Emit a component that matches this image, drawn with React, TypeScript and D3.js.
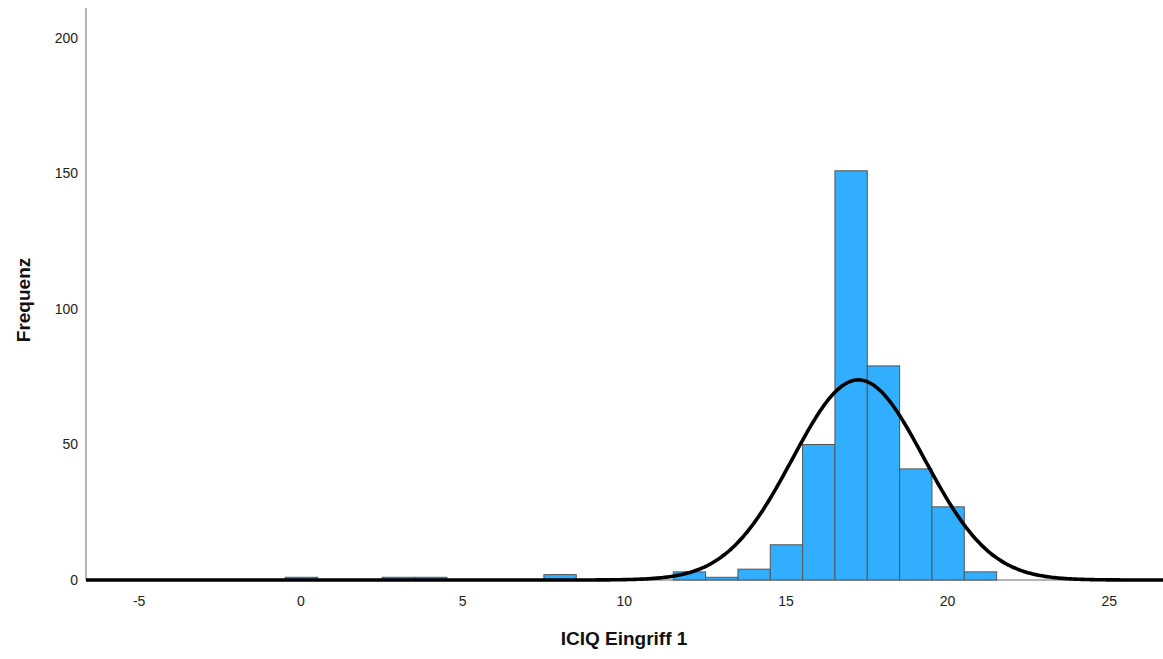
import React from "react";
import * as d3 from "d3";

// Histogram bins (centre of each unit-wide bin) and their counts
const binCenters = [0, 3, 4, 8, 12, 13, 14, 15, 16, 17, 18, 19, 20, 21];
const binCounts = [1, 1, 1, 2, 3, 1, 4, 13, 50, 151, 79, 41, 27, 3];
const yTicks = [0, 50, 100, 150, 200];
const xTicks = [-5, 0, 5, 10, 15, 20, 25];

const W = 1163;
const H = 659;
const left = 86;
const right = 1163;
const top = 38;
const bottom = 580;
const xMin = -6.66;
const xMax = 26.645;

export default function App() {
  const x = d3.scaleLinear().domain([xMin, xMax]).range([left, right]);
  const y = d3.scaleLinear().domain([0, 200]).range([bottom, top]);

  // Normal curve from the sample's mean and standard deviation
  const values: number[] = [];
  binCenters.forEach((c, i) => {
    for (let k = 0; k < binCounts[i]; k++) values.push(c);
  });
  const n = values.length;
  const mu = d3.mean(values) as number;
  const sd = d3.deviation(values) as number;
  const binW = 1;
  const pts = d3.range(xMin, xMax + 0.05, 0.05).map((v) => [
    v,
    (n * binW) / (sd * Math.sqrt(2 * Math.PI)) * Math.exp(-((v - mu) ** 2) / (2 * sd * sd)),
  ]);
  const line = d3
    .line<number[]>()
    .x((d) => x(d[0]))
    .y((d) => y(d[1]))
    .curve(d3.curveBasis);

  const font = "'Liberation Sans', Arial, sans-serif";

  return (
    <svg
      width={W}
      height={H}
      style={{ position: "absolute", left: 0, top: 0, background: "#fff" }}
      fontFamily={font}
    >
      {/* axes */}
      <line x1={left} x2={left} y1={8} y2={bottom} stroke="#9a9a9a" strokeWidth={1.5} />
      <line x1={left} x2={right} y1={bottom} y2={bottom} stroke="#9a9a9a" strokeWidth={1.5} />

      {/* bars */}
      {binCenters.map((c, i) => (
        <rect
          key={c}
          x={x(c - binW / 2)}
          y={y(binCounts[i])}
          width={x(c + binW / 2) - x(c - binW / 2)}
          height={bottom - y(binCounts[i])}
          fill="#31aefe"
          stroke="#555555"
          strokeWidth={1}
        />
      ))}

      {/* normal curve */}
      <path d={line(pts) || ""} fill="none" stroke="#000" strokeWidth={3.6} />

      {/* y tick labels */}
      {yTicks.map((t) => (
        <text
          key={t}
          x={78}
          y={y(t)}
          dy="0.35em"
          textAnchor="end"
          fontSize={14}
          fill="#222"
        >
          {t}
        </text>
      ))}

      {/* x tick labels */}
      {xTicks.map((t) => (
        <text key={t} x={x(t) - 0.5} y={601} dy="0.35em" textAnchor="middle" fontSize={14} fill="#222">
          {t}
        </text>
      ))}

      {/* axis titles */}
      <text
        transform={`translate(23, 300) rotate(-90)`}
        textAnchor="middle"
        dy="0.35em"
        fontSize={19}
        fontWeight="bold"
        fill="#111"
      >
        Frequenz
      </text>
      <text x={624} y={638} dy="0.35em" textAnchor="middle" fontSize={19} fontWeight="bold" fill="#111">
        ICIQ Eingriff 1
      </text>
    </svg>
  );
}
